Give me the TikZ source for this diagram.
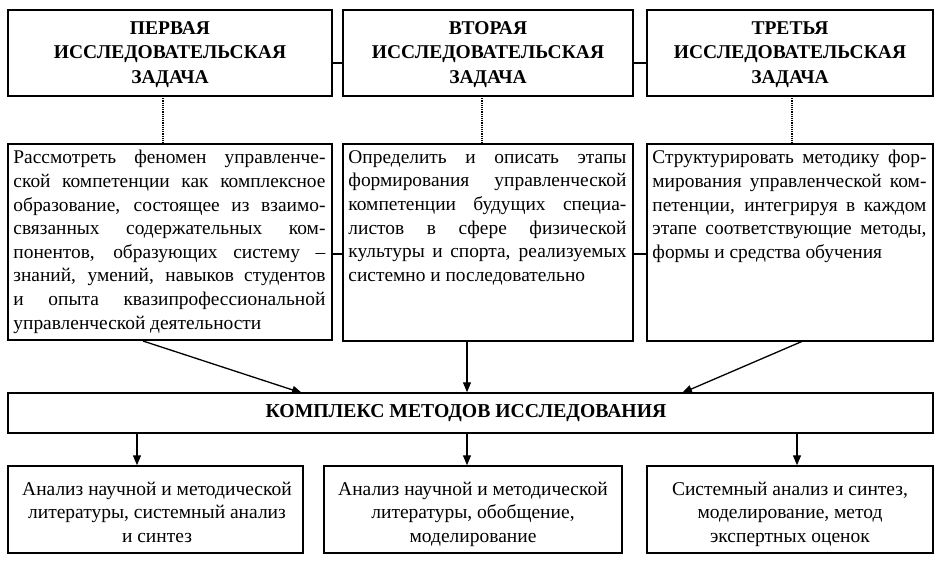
\documentclass[tikz,border=0pt]{standalone}
\usepackage{fontspec}
\setmainfont{Liberation Serif}
\usetikzlibrary{arrows.meta}
\begin{document}
\begin{tikzpicture}[x=1pt,y=-1pt,
  box/.style={draw,line width=1.5pt,rectangle,inner sep=0pt},
  title/.style={font=\fontsize{19.5}{24.5}\selectfont\bfseries,align=center,text width=300pt},
  body/.style={font=\fontsize{19.4}{23.6}\selectfont,align=justify,anchor=north west,inner xsep=6pt,inner ysep=7pt},
  small/.style={font=\fontsize{19.5}{23.3}\selectfont,align=center,anchor=north,inner sep=0pt},
  link/.style={line width=1.3pt},
  dots/.style={line width=1.2pt,dash pattern=on 1.2pt off 1pt},
  arr/.style={line width=1.3pt,-{Triangle[length=10pt,width=8pt]}}]
\useasboundingbox (0,0) rectangle (944,566);
% top boxes
\node[box,minimum width=324pt,minimum height=86pt] (t1) at (170,53) {};
\node[box,minimum width=290pt,minimum height=86pt] (t2) at (488,53) {};
\node[box,minimum width=286pt,minimum height=86pt] (t3) at (790,53) {};
\node[title] (t1t) at (170,54.5) {ПЕРВАЯ\\ИССЛЕДОВАТЕЛЬСКАЯ\\ЗАДАЧА};
\node[title] (t2t) at (488,54.5) {ВТОРАЯ\\ИССЛЕДОВАТЕЛЬСКАЯ\\ЗАДАЧА};
\node[title] (t3t) at (790,54.5) {ТРЕТЬЯ\\ИССЛЕДОВАТЕЛЬСКАЯ\\ЗАДАЧА};
% middle boxes
\node[box,minimum width=324pt,minimum height=196pt] (m1) at (170,242) {};
\node[box,minimum width=290pt,minimum height=197pt] (m2) at (488,242.5) {};
\node[box,minimum width=286pt,minimum height=197pt] (m3) at (790,242.5) {};
\node[body,text width=312pt] (m1t) at (m1.north west) {Рассмотреть феномен управленче-\linebreak ской компетенции как комплексное образование, состоящее из взаимо-\linebreak связанных содержательных ком-\linebreak понентов, образующих систему –\linebreak знаний, умений, навыков студентов\linebreak и опыта квазипрофессиональной\linebreak управленческой деятельности};
\node[body,text width=278pt] (m2t) at (m2.north west) {Определить и описать этапы\linebreak формирования управленческой\linebreak компетенции будущих специа-\linebreak листов в сфере физической\linebreak культуры и спорта, реализуемых\linebreak системно и последовательно};
\node[body,text width=274pt] (m3t) at (m3.north west) {Структурировать методику фор-\linebreak мирования управленческой ком-\linebreak петенции, интегрируя в каждом\linebreak этапе соответствующие методы,\linebreak формы и средства обучения};
% complex box
\node[box,minimum width=925pt,minimum height=40pt] (k) at (470.5,413) {};
\node[font=\fontsize{19.7}{24}\selectfont\bfseries] (kt) at (466,413) {КОМПЛЕКС МЕТОДОВ ИССЛЕДОВАНИЯ};
% bottom boxes
\node[box,minimum width=295pt,minimum height=87pt] (b1) at (155.5,509.5) {};
\node[box,minimum width=298pt,minimum height=87pt] (b2) at (473,509.5) {};
\node[box,minimum width=286pt,minimum height=87pt] (b3) at (790,509.5) {};
\node[small] (b1t) at (157,479) {\strut Анализ научной и методической\\литературы, системный анализ\\и синтез};
\node[small] (b2t) at (473,479) {\strut Анализ научной и методической\\литературы, обобщение,\\моделирование};
\node[small] (b3t) at (790,479) {\strut Системный анализ и синтез,\\моделирование, метод\\экспертных оценок};
% connectors top
\draw[link] (t1.east |- 0,63) coordinate (c1) -- (t2.west |- c1);
\draw[link] (t2.east |- 0,63) coordinate (c2) -- (t3.west |- c2);
\draw[link] (m1.east |- 0,254) coordinate (c3) -- (m2.west |- c3);
\draw[link] (m2.east |- 0,254) coordinate (c4) -- (m3.west |- c4);
\draw[dots] (163,96) coordinate (d1) -- (d1 |- m1.north);
\draw[dots] (482,96) coordinate (d2) -- (d2 |- m2.north);
\draw[dots] (792,96) coordinate (d3) -- (d3 |- m3.north);
% arrows to complex
\draw[arr] (143,341) coordinate (a1) -- (302,393) coordinate (a1e);
\draw[arr] (467,341) coordinate (a2) -- (a2 |- k.north);
\draw[arr] (803,341) coordinate (a3) -- (682,393) coordinate (a3e);
% arrows down
\draw[arr] (137,433) coordinate (e1) -- (e1 |- b1.north);
\draw[arr] (467,433) coordinate (e2) -- (e2 |- b2.north);
\draw[arr] (797,433) coordinate (e3) -- (e3 |- b3.north);
\end{tikzpicture}
\end{document}
